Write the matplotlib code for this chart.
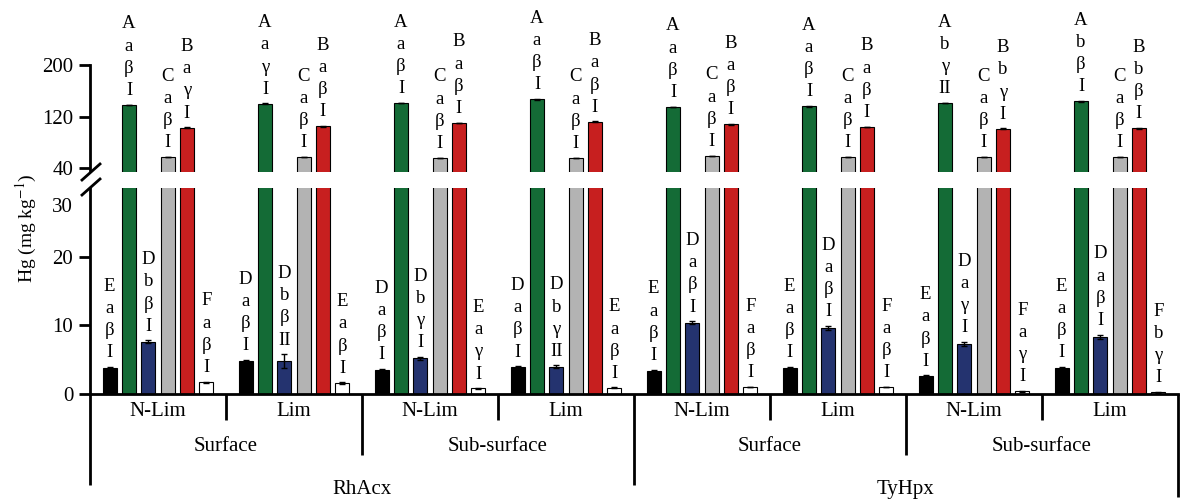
import numpy as np
import matplotlib
matplotlib.use('Agg')
import matplotlib.pyplot as plt
from matplotlib.lines import Line2D

plt.rcParams['font.family'] = ['Liberation Serif', 'DejaVu Serif']
plt.rcParams['mathtext.fontset'] = 'stix'

# hierarchy of the x axis
treatments = ['N-Lim', 'Lim'] * 4
depths = ['Surface', 'Sub-surface'] * 2
cultivars = ['RhAcx', 'TyHpx']

# Hg values (mg/kg), one entry per group, six series per group
black_vals = np.array([3.8, 4.8, 3.5, 3.9, 3.4, 3.8, 2.6, 3.8])
green_vals = np.array([138, 140, 141, 147, 135, 136, 141, 144])
blue_vals = np.array([7.6, 4.8, 5.2, 4.0, 10.4, 9.6, 7.3, 8.3])
gray_vals = np.array([57, 57, 56, 56, 59, 57, 57, 57])
red_vals = np.array([103, 105, 110, 112, 108, 104, 101, 102])
white_vals = np.array([1.7, 1.6, 0.8, 0.9, 1.0, 1.0, 0.4, 0.25])

black_err = np.array([0.15, 0.15, 0.15, 0.15, 0.15, 0.15, 0.1, 0.15])
green_err = np.array([0.6, 0.6, 0.6, 0.6, 0.6, 0.6, 0.6, 0.6])
blue_err = np.array([0.2, 1.0, 0.2, 0.15, 0.2, 0.3, 0.3, 0.35])
gray_err = np.array([0.4, 0.4, 0.4, 0.4, 0.4, 0.4, 0.4, 0.4])
red_err = np.array([0.6, 0.6, 0.6, 0.6, 0.6, 0.6, 0.6, 0.6])
white_err = np.array([0.1, 0.1, 0.05, 0.05, 0.05, 0.05, 0.05, 0.05])

black_labels = ['E a β I', 'D a β I', 'D a β I', 'D a β I', 'E a β I', 'E a β I', 'E a β I', 'E a β I']
green_labels = ['A a β I', 'A a γ I', 'A a β I', 'A a β I', 'A a β I', 'A a β I', 'A b γ II', 'A b β I']
blue_labels = ['D b β I', 'D b β II', 'D b γ I', 'D b γ II', 'D a β I', 'D a β I', 'D a γ I', 'D a β I']
gray_labels = ['C a β I'] * 8
red_labels = ['B a γ I', 'B a β I', 'B a β I', 'B a β I', 'B a β I', 'B a β I', 'B b γ I', 'B b β I']
white_labels = ['F a β I', 'E a β I', 'E a γ I', 'E a β I', 'F a β I', 'F a β I', 'F a γ I', 'F b γ I']

series = [
    (black_vals, black_err, '#000000', black_labels),
    (green_vals, green_err, '#146b36', green_labels),
    (blue_vals, blue_err, '#24336f', blue_labels),
    (gray_vals, gray_err, '#b3b3b3', gray_labels),
    (red_vals, red_err, '#c71f1f', red_labels),
    (white_vals, white_err, '#ffffff', white_labels),
]

fig = plt.figure(figsize=(11.82, 5.01), dpi=100)
ax_hi = fig.add_axes([0.0761, 0.6567, 0.9205, 0.3433])
ax_lo = fig.add_axes([0.0761, 0.2136, 0.9205, 0.4112])

x = np.arange(len(treatments)) + 0.5
step = 0.142
width = 0.104
for j, (vals, errs, col, labs) in enumerate(series):
    xs = x + (j - 2.5) * step
    for ax in (ax_lo, ax_hi):
        ax.bar(xs, vals, width, yerr=errs, color=col, edgecolor='black', linewidth=0.8,
               error_kw=dict(elinewidth=1, capsize=2.5, capthick=1, ecolor='black'))
    target = ax_hi if vals.max() > 30 else ax_lo
    for xi, v, e, lab in zip(xs, vals, errs, labs):
        target.annotate('\n'.join(lab.split()), xy=(xi, v + e), xytext=(0, 4),
                        textcoords='offset points', ha='center', va='bottom',
                        fontsize=13.5, linespacing=1.4, annotation_clip=False)

lw = 2.0
for ax in (ax_lo, ax_hi):
    ax.set_xlim(0, 8)
    ax.set_xticks([])
    for s in ['top', 'right']:
        ax.spines[s].set_visible(False)
    for s in ['left', 'bottom']:
        ax.spines[s].set_linewidth(lw)
    ax.tick_params(axis='y', length=8, width=lw, labelsize=15, pad=4)

ax_hi.spines['bottom'].set_visible(False)
ax_hi.set_ylim(34, 301)
ax_hi.set_yticks([40, 120, 200])
ax_hi.spines['left'].set_bounds(37, 200)

ax_lo.set_ylim(0, 30)
ax_lo.set_yticks([0, 10, 20])
ax_lo.annotate('30', xy=(0, 30), xycoords=('axes fraction', 'data'), xytext=(-12, -14),
               textcoords='offset points', ha='right', va='center', fontsize=15)

# break marks on the y axis
for yb in (172, 187):
    fig.add_artist(Line2D([82 / 1182, 100 / 1182], [1 - (yb + 8) / 501, 1 - (yb - 8) / 501],
                          color='black', lw=lw))

# hierarchical x axis below the plot
xt = ax_lo.get_xaxis_transform()
seps = [(0, -0.44), (1, -0.126), (2, -0.296), (3, -0.126), (4, -0.44),
        (5, -0.126), (6, -0.296), (7, -0.126), (8, -0.5)]
for xs_, y0 in seps:
    ax_lo.plot([xs_, xs_], [0, y0], transform=xt, color='black', lw=lw,
               clip_on=False, solid_capstyle='butt')

for xi, t in zip(x, treatments):
    ax_lo.text(xi, -0.087, t, transform=xt, ha='center', va='center', fontsize=15)
for k, d in enumerate(depths):
    ax_lo.text(2 * k + 1, -0.257, d, transform=xt, ha='center', va='center', fontsize=15)
for k, c in enumerate(cultivars):
    ax_lo.text(4 * k + 2, -0.466, c, transform=xt, ha='center', va='center', fontsize=15)

fig.text(0.022, 1 - 228 / 501, 'Hg (mg kg$^{-1}$)', rotation=90, ha='center', va='center', fontsize=14)

fig.savefig('out.png', dpi=100)
